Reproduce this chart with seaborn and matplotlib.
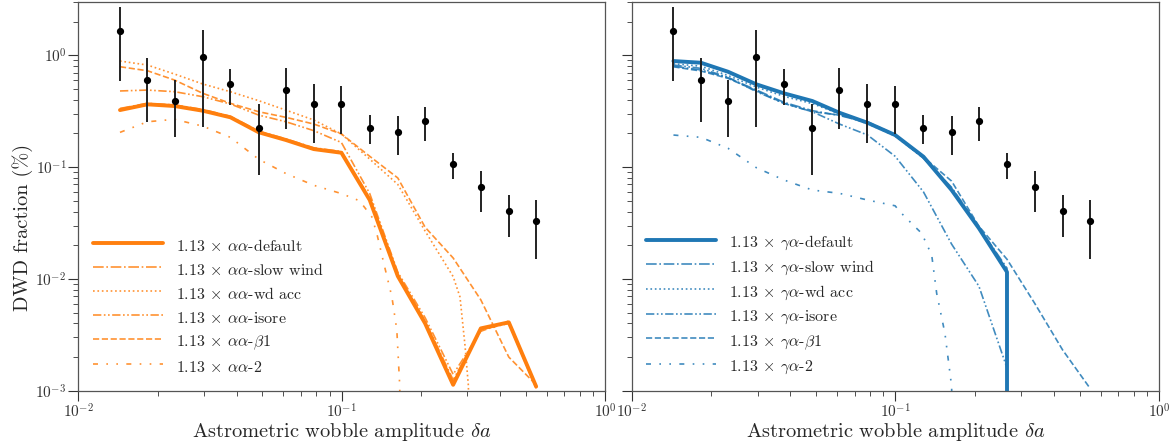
import numpy as np
import matplotlib
matplotlib.use("Agg")
import matplotlib.pyplot as plt
import seaborn as sns

# ---------------- data ----------------
# observed DWD fraction (%) with asymmetric error bars
obs_x = [0.0144, 0.0183, 0.0232, 0.0297, 0.0378, 0.0484, 0.0613, 0.0783,
         0.0997, 0.1277, 0.1632, 0.2072, 0.2647, 0.3371, 0.4305, 0.5467]
obs_y = [1.65, 0.598, 0.390, 0.960, 0.554, 0.225, 0.489, 0.365,
         0.365, 0.222, 0.207, 0.257, 0.106, 0.066, 0.0405, 0.0327]
obs_lo = [0.593, 0.253, 0.187, 0.230, 0.359, 0.085, 0.219, 0.165,
          0.198, 0.160, 0.1275, 0.172, 0.0778, 0.0399, 0.0236, 0.0152]
obs_hi = [2.72, 0.940, 0.598, 1.684, 0.750, 0.369, 0.765, 0.554,
          0.528, 0.291, 0.285, 0.345, 0.1337, 0.0923, 0.0563, 0.0508]

bins = obs_x

# ---- alpha-alpha models (left) ----
aa_default = [0.324, 0.3645, 0.352, 0.3195, 0.279, 0.205, 0.175, 0.145,
              0.1345, 0.0508, 0.0106, 0.0040, 0.00113, 0.00361, 0.00409, 0.00109]
aa_slow = [0.335, 0.372, 0.360, 0.328, 0.285, 0.210, 0.179, 0.149,
           0.138, 0.0530, 0.0110, 0.0042, 0.00125, 0.00350, 0.00400, 0.00105]
aa_wdacc_x = [0.0144, 0.0183, 0.0232, 0.0297, 0.0378, 0.0484, 0.0613, 0.0783,
              0.0997, 0.1277, 0.1632, 0.2072, 0.2647, 0.281, 0.2938, 0.3025, 0.305]
aa_wdacc = [0.889, 0.819, 0.680, 0.554, 0.4725, 0.393, 0.324, 0.264,
            0.198, 0.118, 0.070, 0.0268, 0.0105, 0.0069, 0.0025, 0.0011, 1e-6]
aa_isore = [0.480, 0.489, 0.473, 0.4265, 0.367, 0.292, 0.255, 0.212,
            0.166, 0.058, 0.0115, 0.0045, 0.0014, 0.0034, 0.0042, 0.0011]
aa_beta1 = [0.791, 0.728, 0.601, 0.457, 0.372, 0.313, 0.279, 0.243,
            0.198, 0.125, 0.080, 0.0290, 0.0154, 0.0065, 0.0020, 0.00113]
aa_m2_x = [0.0144, 0.0183, 0.0232, 0.0297, 0.0378, 0.0484, 0.0613, 0.0783,
           0.0997, 0.1168, 0.130, 0.1358, 0.1444, 0.155, 0.1618, 0.166, 0.168]
aa_m2 = [0.2046, 0.2546, 0.2677, 0.2325, 0.1846, 0.1176, 0.0878, 0.0688,
         0.0580, 0.0500, 0.0360, 0.0256, 0.0138, 0.0069, 0.0035, 0.0011, 1e-6]

# ---- gamma-alpha models (right) ----
ga_default_x = [0.0144, 0.0183, 0.0232, 0.0297, 0.0378, 0.0484, 0.0613, 0.0783,
                0.0997, 0.1277, 0.1632, 0.2072, 0.2647, 0.3371]
ga_default = [0.889, 0.8586, 0.713, 0.5503, 0.4571, 0.3903, 0.3066, 0.2495,
              0.1937, 0.1239, 0.0624, 0.0284, 0.01153, 0.0]
ga_slow = [0.800, 0.740, 0.630, 0.490, 0.380, 0.320, 0.290, 0.250,
           0.192, 0.120, 0.066, 0.0290, 0.0125, 0.0]
ga_wdacc = [0.840, 0.800, 0.660, 0.520, 0.430, 0.370, 0.300, 0.245,
            0.190, 0.121, 0.064, 0.0285, 0.0118, 0.0]
ga_isore = [0.819, 0.765, 0.635, 0.473, 0.372, 0.313, 0.243, 0.194,
            0.125, 0.060, 0.0205, 0.0086, 0.0016, 0.0]
ga_beta1 = [0.790, 0.724, 0.622, 0.482, 0.372, 0.313, 0.292, 0.2546,
            0.195, 0.123, 0.075, 0.0296, 0.0150, 0.00605, 0.00231, 0.00105]
ga_m2_x = [0.0144, 0.0183, 0.0232, 0.0297, 0.0378, 0.0484, 0.0613, 0.0783,
           0.0997, 0.104, 0.1168, 0.1257, 0.1372, 0.1433, 0.154, 0.1633, 0.166]
ga_m2 = [0.1937, 0.1847, 0.1473, 0.0988, 0.0767, 0.0624, 0.0583, 0.0508,
         0.0451, 0.0399, 0.0303, 0.0256, 0.01636, 0.00743, 0.00326, 0.00109, 1e-6]

labels_aa = [r"1.13 $\times$ $\alpha\alpha$-default",
             r"1.13 $\times$ $\alpha\alpha$-slow wind",
             r"1.13 $\times$ $\alpha\alpha$-wd acc",
             r"1.13 $\times$ $\alpha\alpha$-isore",
             r"1.13 $\times$ $\alpha\alpha$-$\beta1$",
             r"1.13 $\times$ $\alpha\alpha$-2"]
labels_ga = [r"1.13 $\times$ $\gamma\alpha$-default",
             r"1.13 $\times$ $\gamma\alpha$-slow wind",
             r"1.13 $\times$ $\gamma\alpha$-wd acc",
             r"1.13 $\times$ $\gamma\alpha$-isore",
             r"1.13 $\times$ $\gamma\alpha$-$\beta1$",
             r"1.13 $\times$ $\gamma\alpha$-2"]

xlabel = r"Astrometric wobble amplitude $\delta a$"
ylabel = "DWD fraction (%)"

# ---------------- style ----------------
sns.set_style("ticks")
plt.rcParams["font.family"] = ["cmr10", "DejaVu Serif"]
plt.rcParams["mathtext.fontset"] = "cm"
plt.rcParams["axes.formatter.use_mathtext"] = True
plt.rcParams["axes.unicode_minus"] = False

styles = ["-", "-.", ":", (0, (5, 1.5, 1, 1.5, 1, 1.5)), "--", (0, (3, 5, 1, 5, 1, 5))]
widths = [2.8, 1.2, 1.2, 1.2, 1.2, 1.2]

fig = plt.figure(figsize=(11.75, 4.44), dpi=100)
axL = fig.add_axes([0.0666, 0.12, 0.4485, 0.8755])
axR = fig.add_axes([0.5376, 0.12, 0.4490, 0.8755])

orange = "#ff7f0e"
blue = "#1f77b4"

left_series = [(bins, aa_default), (bins, aa_slow), (aa_wdacc_x, aa_wdacc),
               (bins, aa_isore), (bins, aa_beta1), (aa_m2_x, aa_m2)]
right_series = [(ga_default_x, ga_default), (ga_default_x, ga_slow),
                (ga_default_x, ga_wdacc), (ga_default_x, ga_isore),
                (bins, ga_beta1), (ga_m2_x, ga_m2)]

for ax, series, labels, col in [(axL, left_series, labels_aa, orange),
                                (axR, right_series, labels_ga, blue)]:
    for (xs, ys), lab, ls, lw in zip(series, labels, styles, widths):
        sns.lineplot(x=np.asarray(xs), y=np.asarray(ys), ax=ax, color=col,
                     linestyle=ls, linewidth=lw, label=lab, estimator=None,
                     sort=False, alpha=1.0 if lw > 2 else 0.85)
    yv = np.asarray(obs_y)
    yerr = [yv - np.asarray(obs_lo), np.asarray(obs_hi) - yv]
    ax.errorbar(obs_x, obs_y, yerr=yerr, fmt="o", color="k", ecolor="#222222",
                ms=4.2, elinewidth=1.4, capsize=0, zorder=5)
    ax.set_xscale("log")
    ax.set_yscale("log")
    ax.set_xlim(1e-2, 1e0)
    ax.set_ylim(1e-3, 3.0)
    ax.set_xlabel(xlabel, fontsize=14.7, labelpad=0)
    ax.tick_params(which="major", length=7, width=0.8, labelsize=11, pad=1.5,
                   direction="out", colors="#333333")
    ax.tick_params(which="minor", length=3.5, width=0.6, direction="out",
                   colors="#333333")
    for s in ax.spines.values():
        s.set_color("#555555")
        s.set_linewidth(0.9)
    leg = ax.legend(loc="lower left", frameon=False, fontsize=11.5,
                    handlelength=4.4, handleheight=1.5, labelspacing=0.28,
                    handletextpad=0.8)

axL.set_ylabel(ylabel, fontsize=14.7)
axL.yaxis.set_label_coords(-0.085, 0.42)
axR.tick_params(axis="y", which="both", labelleft=False)
axR.set_ylabel("")

fig.savefig("out.png", dpi=100)
